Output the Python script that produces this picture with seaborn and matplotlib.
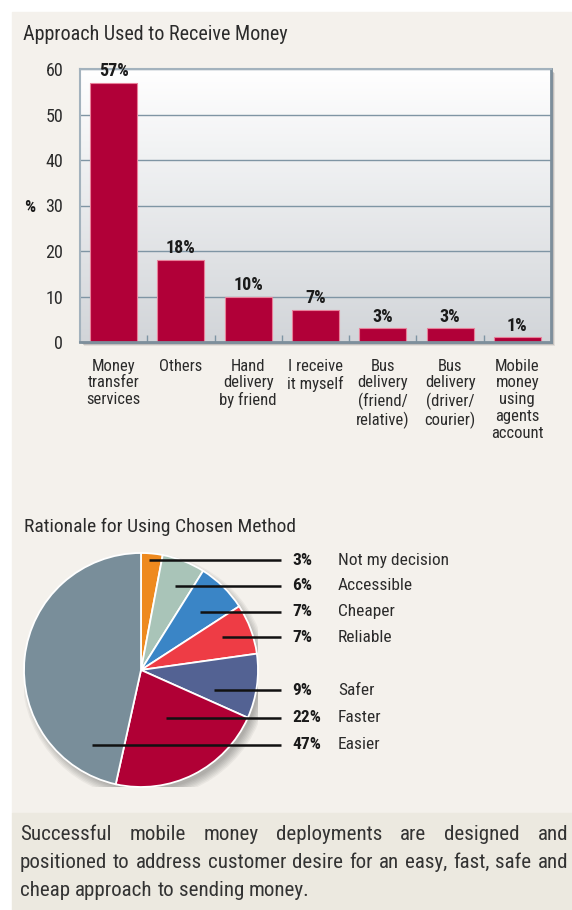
import numpy as np
import pandas as pd
import matplotlib
matplotlib.use("Agg")
import matplotlib.pyplot as plt
from matplotlib import font_manager
from matplotlib.patches import Rectangle, Circle
import seaborn as sns

# ---- data -----------------------------------------------------------------
approach_labels = [
    "Money\ntransfer\nservices",
    "Others",
    "Hand\ndelivery\nby friend",
    "I receive\nit myself",
    "Bus\ndelivery\n(friend/\nrelative)",
    "Bus\ndelivery\n(driver/\ncourier)",
    "Mobile\nmoney\nusing\nagents\naccount",
]
approach_share = [57, 18, 10, 7, 3, 3, 1]
y_ticks = [0, 10, 20, 30, 40, 50, 60]

reasons = ["Not my decision", "Accessible", "Cheaper", "Reliable",
           "Safer", "Faster", "Easier"]
reason_share = [3, 6, 7, 7, 9, 22, 47]
reason_colors = ["#ee8a1f", "#a9c4b8", "#3a85c6", "#ee3c45",
                 "#536293", "#b00035", "#798e9a"]

caption_lines = [
    "Successful mobile money deployments are designed and",
    "positioned to address customer desire for an easy, fast, safe and",
    "cheap approach to sending money.",
]

# ---- style ----------------------------------------------------------------
sns.set_theme(style="white")
available = {f.name for f in font_manager.fontManager.ttflist}
base_font = next(f for f in ["Liberation Sans Narrow", "Roboto Condensed",
                             "Roboto", "Open Sans", "DejaVu Sans"]
                 if f in available)
plt.rcParams["font.family"] = [base_font, "DejaVu Sans"]
TEXT = "#2b2b2b"

W, H = 572, 910
fig = plt.figure(figsize=(W / 100, H / 100), dpi=100)
fig.patch.set_facecolor("white")


def fx(x):
    return x / W


def fy(y):
    return 1 - y / H


# page panels
fig.patches.append(Rectangle((fx(12), fy(813)), fx(560), 801 / H,
                             transform=fig.transFigure, color="#f4f1ec",
                             zorder=-5))
fig.patches.append(Rectangle((fx(12), 0), fx(560), 97 / H,
                             transform=fig.transFigure, color="#ece9e0",
                             zorder=-5))

# ---- bar chart --------------------------------------------------------------
fig.text(fx(23), fy(34), "Approach Used to Receive Money", fontsize=14.5,
         color=TEXT, va="center", ha="left")

ax_l, ax_r, ax_t, ax_b = 80, 551, 69, 342
# soft drop shadow behind the plot frame
for k, a in enumerate([0.10, 0.18, 0.30]):
    off = 4 - k
    fig.patches.append(Rectangle((fx(ax_l + off), fy(ax_b + off)),
                                 (ax_r - ax_l) / W, (ax_b - ax_t) / H,
                                 transform=fig.transFigure, color="#3c3c3c",
                                 alpha=a, zorder=-1, lw=0))

ax = fig.add_axes([fx(ax_l), fy(ax_b), (ax_r - ax_l) / W, (ax_b - ax_t) / H])
grad = np.linspace(0, 1, 256)[:, None]
top_c = np.array([1.0, 1.0, 1.0])
bot_c = np.array([0xd2, 0xd5, 0xd9]) / 255
img = top_c[None, None, :] * (1 - grad[..., None]) + bot_c[None, None, :] * grad[..., None]
ax.imshow(img, extent=(0, 1, 0, 1), transform=ax.transAxes, aspect="auto",
          zorder=0, interpolation="bilinear")

df = pd.DataFrame({"approach": approach_labels, "share": approach_share})
sns.barplot(data=df, x="approach", y="share", ax=ax, color="#b10038",
            saturation=1, width=0.7, edgecolor="#e8809a", linewidth=0.8,
            zorder=2)
ax.set_xlim(-0.5, len(approach_labels) - 0.5)
ax.set_ylim(0, 60)
ax.set_yticks(y_ticks)
ax.yaxis.grid(True, color="#7f95a4", lw=1)
ax.xaxis.grid(False)
ax.set_axisbelow(True)
ax.set_xlabel("")
ax.set_ylabel("")
ax.set_xticks(range(len(approach_labels)))
ax.set_xticklabels(approach_labels, fontsize=12, color=TEXT,
                   linespacing=1.15)
ax.set_xticks(np.arange(0.5, len(approach_labels) - 0.5), minor=True)
ax.tick_params(axis="x", which="major", length=0, pad=12)
ax.tick_params(axis="x", which="minor", direction="in", length=5,
               color="#7f95a4", width=1, bottom=True)
ax.tick_params(axis="y", length=0, pad=12, labelsize=13, labelcolor=TEXT)
for s in ["top", "left"]:
    ax.spines[s].set_color("#a3b2bd")
    ax.spines[s].set_linewidth(1.5)
for s in ["right", "bottom"]:
    ax.spines[s].set_color("#7d8f9c")
    ax.spines[s].set_linewidth(2)

ax.bar_label(ax.containers[0], labels=[f"{v}%" for v in approach_share],
             padding=2, fontsize=13, fontweight="bold", color="#1a1a1a")
fig.text(fx(30), fy(208), "%", fontsize=12.5, fontweight="bold",
         color="#1a1a1a", ha="center", va="center")

# ---- pie chart ----------------------------------------------------------------
fig.text(fx(24), fy(527), "Rationale for Using Chosen Method", fontsize=14,
         color=TEXT, va="center", ha="left")

cx, cy, r = 141, 670, 117
pax = fig.add_axes([fx(cx - r), fy(cy + r), 2 * r / W, 2 * r / H])
for k in range(7):
    pax.add_patch(Circle((0.035, -0.05), 1.05 - 0.012 * k, color="#000000",
                         alpha=0.045, lw=0, zorder=0))
pax.pie(reason_share, colors=reason_colors, startangle=90, counterclock=False,
        radius=1, wedgeprops=dict(edgecolor="white", linewidth=1.3, zorder=1))
pax.set_xlim(-1, 1)
pax.set_ylim(-1, 1)
pax.set_aspect("equal")
pax.axis("off")

# leader lines: label row heights and where each line starts inside its wedge
label_y = [0.94, 0.718, 0.496, 0.282, -0.171, -0.41, -0.641]
line_start = [0.068, 0.29, 0.504, 0.692, 0.624, 0.214, -0.419]
line_end, pct_x, name_x = 1.197, 1.29, 1.684
for share, name, ly, sx in zip(reason_share, reasons, label_y, line_start):
    pax.plot([sx, line_end], [ly, ly], color="#111111", lw=1.8,
             clip_on=False, zorder=3, solid_capstyle="butt")
    pax.text(pct_x, ly, f"{share}%", fontsize=12.5, fontweight="bold",
             color="#1a1a1a", va="center", ha="left")
    pax.text(name_x, ly, name, fontsize=12.5, color=TEXT, va="center",
             ha="left")

# ---- caption (justified) -----------------------------------------------------
renderer = fig.canvas.get_renderer()
cap_left, cap_right = 20, 568
cap_y = [835, 862, 890]


def word_width(word, size):
    t = fig.text(0, 0, word, fontsize=size)
    w = t.get_window_extent(renderer).width
    t.remove()
    return w


# the second line sets naturally at full width
cap_size = 14 * (cap_right - cap_left) / word_width(caption_lines[1], 14) * 0.985
space_w = word_width("a b", cap_size) - word_width("ab", cap_size)
for i, (line, ly) in enumerate(zip(caption_lines, cap_y)):
    words = line.split()
    widths = [word_width(w, cap_size) for w in words]
    if i < len(caption_lines) - 1:
        gap = (cap_right - cap_left - sum(widths)) / (len(words) - 1)
    else:
        gap = space_w
    x = cap_left
    for w, wd in zip(words, widths):
        fig.text(fx(x), fy(ly), w, fontsize=cap_size, color="#333333",
                 ha="left", va="center")
        x += wd + gap

fig.savefig("out.png", dpi=100, facecolor=fig.get_facecolor())
